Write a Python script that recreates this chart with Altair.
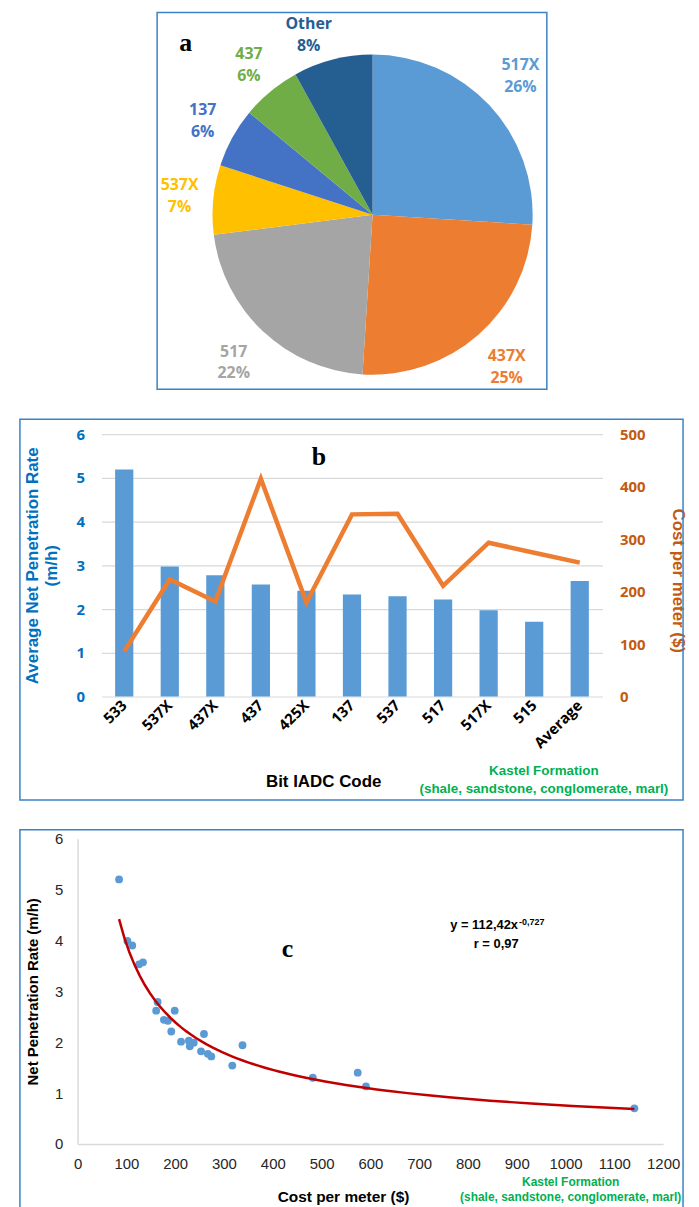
import altair as alt
import pandas as pd

# ---------------- data ----------------
# (a) share of bit types
pie_codes = ["517X", "437X", "517", "537X", "137", "437", "Other"]
pie_shares = [26, 25, 22, 7, 6, 6, 8]
pie_colors = ["#5B9BD5", "#ED7D31", "#A5A5A5", "#FFC000", "#4472C4", "#70AD47", "#255E91"]

# (b) average net penetration rate and cost per meter by bit IADC code
bit_codes = ["533", "537X", "437X", "437", "425X", "137", "537", "517", "517X", "515", "Average"]
avg_npr = [5.19, 2.97, 2.77, 2.56, 2.42, 2.33, 2.29, 2.22, 1.97, 1.71, 2.64]
cost_per_m = [86, 223, 181, 415, 179, 347, 348, 211, 293, 274, 255]

# (c) individual bit runs
scatter_cost = [85, 102, 112, 126, 134, 161, 164, 177, 185, 192, 199, 212, 228, 230,
                238, 253, 259, 267, 274, 317, 338, 482, 574, 591, 1141]
scatter_npr = [5.20, 3.99, 3.90, 3.53, 3.57, 2.62, 2.79, 2.44, 2.42, 2.21, 2.62, 2.01, 2.03, 1.92,
               1.99, 1.82, 2.16, 1.77, 1.72, 1.54, 1.94, 1.30, 1.40, 1.13, 0.70]

BORDER = "#3B82C4"
GREEN = "#00B050"
BLUE_T = "#0070C0"
ORANGE_T = "#C55A11"
one = pd.DataFrame({"k": [0]})


def box(x1, y1, x2, y2):
    return alt.Chart(one).mark_rect(fill="white", fillOpacity=0, stroke=BORDER, strokeWidth=1.5).encode(
        x=alt.value(x1), x2=alt.value(x2), y=alt.value(y1), y2=alt.value(y2))


def note(text, x, y, size, color="black", font="Liberation Sans", weight="bold", align="center"):
    return alt.Chart(one).mark_text(text=text, fontSize=size, font=font, fontWeight=weight,
                                    color=color, align=align, baseline="middle").encode(
        x=alt.value(x), y=alt.value(y))


# ---------------- panel a ----------------
pie_df = pd.DataFrame({
    "code": pie_codes,
    "share": pie_shares,
    "idx": list(range(len(pie_codes))),
    "label": [f"{c}\n{s}%" for c, s in zip(pie_codes, pie_shares)],
})
theta_scale = alt.Scale(domain=[0, 100], range=[0, 6.283185307179586])
pie_color = alt.Color("code:N", scale=alt.Scale(domain=pie_codes, range=pie_colors), legend=None)
CX, CY = 272.7, 203.3

arcs = alt.Chart(pie_df).mark_arc(outerRadius=161).encode(
    theta=alt.Theta("share:Q", stack=True, scale=theta_scale),
    order=alt.Order("idx:Q", sort="ascending"),
    color=pie_color,
    x=alt.value(CX), y=alt.value(CY),
)
label_base = alt.Chart(pie_df).transform_window(
    cum="sum(share)", sort=[alt.SortField("idx", order="ascending")]
).transform_calculate(
    mid="datum.cum - datum.share / 2"
).encode(
    theta=alt.Theta("mid:Q", scale=theta_scale),
    color=pie_color,
    text="label:N",
    x=alt.value(CX), y=alt.value(CY),
)
text_props = dict(font="Open Sans", fontSize=16, fontWeight="bold", lineBreak="\n", lineHeight=22)
labels_big = label_base.transform_filter("datum.share >= 20").mark_text(
    radius=204, dy=-11, **text_props)
labels_small = label_base.transform_filter("datum.share < 20 && datum.code != 'Other'").mark_text(
    radius=195, dy=-11, **text_props)
labels_other = label_base.transform_filter("datum.code == 'Other'").mark_text(
    radius=190, dx=-17, dy=-8, **text_props)

panel_a = alt.layer(
    box(56, 0, 448, 379), arcs, labels_big, labels_small, labels_other,
    note("a", 84.7, 30.7, 26, font="Liberation Serif"),
).properties(width=448, height=281)

# ---------------- panel b ----------------
b_df = pd.DataFrame({"code": bit_codes, "npr": avg_npr, "cost": cost_per_m})
xb = alt.X("code:N", sort=bit_codes,
           scale=alt.Scale(paddingInner=0.6, paddingOuter=0.3),
           axis=alt.Axis(title="Bit IADC Code", labelAngle=-45, labelAlign="right", labelBaseline="middle",
                         labelFont="Open Sans", labelFontSize=15, labelFontWeight="bold", labelColor="black",
                         labelPadding=6, domain=False, ticks=False, tickSize=0, grid=False,
                         titleFont="Liberation Sans", titleFontSize=17, titleFontWeight="bold",
                         titleColor="black", titleX=223, titleY=85, titleBaseline="middle",
                         titleAlign="center"))
bars = alt.Chart(b_df).mark_bar(color="#5B9BD5").encode(
    x=xb,
    y=alt.Y("npr:Q", scale=alt.Scale(domain=[0, 6], nice=False),
            axis=alt.Axis(values=[0, 1, 2, 3, 4, 5, 6], grid=True, gridColor="#D9D9D9", gridWidth=1.2,
                          domain=False, ticks=False, tickSize=0, labelPadding=17,
                          labelFont="Open Sans", labelFontSize=15, labelFontWeight="bold",
                          labelColor=BLUE_T,
                          title=["Average Net Penetration Rate", "(m/h)"],
                          titleFont="Liberation Sans", titleFontSize=17, titleFontWeight="bold",
                          titleColor=BLUE_T, titleAngle=-90, titleX=-69, titleY=132,
                          titleAlign="center", titleBaseline="middle", titleLineHeight=19)),
)
cost_line = alt.Chart(b_df).mark_line(color="#ED7D31", strokeWidth=4.5).encode(
    x=xb,
    y=alt.Y("cost:Q", scale=alt.Scale(domain=[0, 500], nice=False),
            axis=alt.Axis(orient="right", values=[0, 100, 200, 300, 400, 500], grid=False,
                          domain=False, ticks=False, tickSize=0, labelPadding=17,
                          labelFont="Open Sans", labelFontSize=15, labelFontWeight="bold",
                          labelColor=ORANGE_T, title="Cost per meter ($)",
                          titleFont="Liberation Sans", titleFontSize=17, titleFontWeight="bold",
                          titleColor=ORANGE_T, titleAngle=90, titleX=75, titleY=147,
                          titleAlign="center", titleBaseline="middle")),
)
panel_b = alt.layer(
    box(-82, -15, 585, 368), bars, cost_line,
    note("b", 218.7, 22.7, 26, font="Liberation Serif"),
    note("Kastel Formation", 445, 338.7, 13.5, color=GREEN),
    note("(shale, sandstone, conglomerate, marl)", 445, 356.7, 13.5, color=GREEN),
).resolve_scale(y="independent").properties(width=504, height=264)

# ---------------- panel c ----------------
c_df = pd.DataFrame({"cost": scatter_cost, "npr": scatter_npr})
LABEL_FONT_C = "Liberation Sans Narrow, Liberation Sans, sans-serif"
xc = alt.X("cost:Q", scale=alt.Scale(domain=[0, 1200], range=[-24, 565], nice=False),
           axis=alt.Axis(values=list(range(0, 1300, 100)), format="d", labelOverlap=False,
                         labelFlush=False, grid=False, ticks=False, tickSize=0,
                         domainColor="#D9D9D9", domainWidth=1.5, labelFont=LABEL_FONT_C,
                         labelFontSize=15, labelColor="#262626", labelPadding=13,
                         title="Cost per meter ($)", titleFont="Liberation Sans", titleFontSize=15.5,
                         titleFontWeight="bold", titleColor="black", titleX=243, titleY=53,
                         titleBaseline="middle", titleAlign="center"))
yc = alt.Y("npr:Q", scale=alt.Scale(domain=[0, 6], nice=False),
           axis=alt.Axis(values=[0, 1, 2, 3, 4, 5, 6], offset=24, grid=False, ticks=False, tickSize=0,
                         labelOverlap=False, labelFlush=False,
                         domainColor="#D9D9D9", domainWidth=1.5, labelFont=LABEL_FONT_C,
                         labelFontSize=15, labelColor="#262626", labelPadding=15,
                         title="Net Penetration Rate (m/h)", titleFont="Liberation Sans",
                         titleFontSize=15, titleFontWeight="bold", titleColor="black",
                         titlePadding=14))
pts = alt.Chart(c_df).mark_circle(size=62, color="#5B9BD5", opacity=1).encode(x=xc, y=yc)
trend = alt.Chart(c_df).transform_regression("cost", "npr", method="pow").mark_line(
    color="#C00000", strokeWidth=2.5).encode(x=xc, y=yc)
panel_c = alt.layer(
    box(-82, -9, 585, 380), pts, trend,
    note("y = 112,42x", 419, 87.3, 13, align="right"),
    note("-0,727", 420, 83.5, 9, align="left"),
    note("r = 0,97", 397, 105.7, 13),
    note("c", 187, 110.7, 26, font="Liberation Serif"),
    note("Kastel Formation", 472, 345.7, 12, color=GREEN),
    note("(shale, sandstone, conglomerate, marl)", 472, 360.7, 12, color=GREEN),
).properties(width=565, height=307)

chart = alt.vconcat(panel_a, panel_b, panel_c, spacing=143, bounds="flush").configure_view(
    strokeWidth=0
).properties(padding={"left": 11, "top": 0, "right": 4, "bottom": 4}, background="white")

chart.save("out.html", embed_options={"renderer": "svg", "actions": False})
